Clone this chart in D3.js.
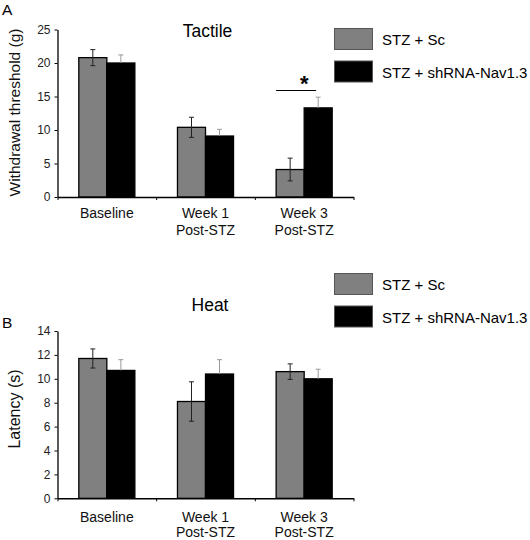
<!DOCTYPE html>
<html><head><meta charset="utf-8">
<script src="https://cdn.jsdelivr.net/npm/d3@7"></script>
<style>body{margin:0;background:#fff}svg{display:block}text{font-family:Arial,"Liberation Sans",sans-serif}</style>
</head><body>
<svg id="c" width="530" height="540"></svg>
<script>
const categories = [["Baseline"], ["Week 1", "Post-STZ"], ["Week 3", "Post-STZ"]];
const seriesNames = ["STZ + Sc", "STZ + shRNA-Nav1.3"];
const seriesColors = ["#808080", "#000000"];
const tactileSc = [20.8, 10.4, 4.1];
const tactileSh = [20.0, 9.1, 13.3];
const tactileScErr = [1.2, 1.5, 1.7];
const tactileShErr = [1.2, 1.0, 1.6];
const heatSc = [11.7, 8.1, 10.6];
const heatSh = [10.7, 10.4, 10.0];
const heatScErr = [0.8, 1.65, 0.65];
const heatShErr = [0.9, 1.2, 0.8];
const tactileTicks = [0, 5, 10, 15, 20, 25];
const heatTicks = [0, 2, 4, 6, 8, 10, 12, 14];

const svg = d3.select("#c");

function panel(o) {
  const g = svg.append("g");
  const x = d3.scaleBand().domain(d3.range(categories.length)).range([57.5, 353.5]).padding(0);
  const xs = d3.scaleBand().domain([0, 1]).range([0, x.bandwidth()]).paddingInner(0).paddingOuter(0.76);
  const y = d3.scaleLinear().domain([0, o.max]).range([o.y0, o.y1]);

  const series = [o.sc, o.sh];
  const errs = [o.scErr, o.shErr];
  series.forEach((vals, si) => {
    g.selectAll(null).data(vals).enter().append("rect")
      .attr("x", (d, i) => x(i) + xs(si))
      .attr("width", xs.bandwidth())
      .attr("y", d => y(d))
      .attr("height", d => y(0) - y(d))
      .attr("fill", seriesColors[si])
      .attr("stroke", "#000").attr("stroke-width", 1.3);
  });
  series.forEach((vals, si) => {
    const col = si === 0 ? "#222" : "#999";
    vals.forEach((v, i) => {
      const cx = x(i) + xs(si) + xs.bandwidth() / 2;
      const lo = si === 0 ? v - errs[si][i] : v;
      const hi = v + errs[si][i];
      g.append("line").attr("x1", cx).attr("x2", cx).attr("y1", y(lo)).attr("y2", y(hi)).attr("stroke", col).attr("stroke-width", 1);
      g.append("line").attr("x1", cx - 2.5).attr("x2", cx + 2.5).attr("y1", y(hi)).attr("y2", y(hi)).attr("stroke", col).attr("stroke-width", 1);
      if (si === 0) g.append("line").attr("x1", cx - 2.5).attr("x2", cx + 2.5).attr("y1", y(lo)).attr("y2", y(lo)).attr("stroke", col).attr("stroke-width", 1);
    });
  });

  const ya = g.append("g").attr("transform", "translate(57.5,0)")
    .call(d3.axisLeft(y).tickValues(o.ticks).tickSize(3).tickSizeOuter(0).tickPadding(4));
  ya.select(".domain").attr("stroke-width", 1.3);
  ya.selectAll("text").attr("font-size", 12).attr("fill", "#222").attr("font-family", "Arial, 'Liberation Sans', sans-serif");

  const xl = d3.scaleLinear().domain([0, categories.length]).range([57.5, 353.5]);
  const xa = g.append("g").attr("transform", `translate(0,${o.y0})`)
    .call(d3.axisBottom(xl).tickValues(d3.range(categories.length + 1)).tickSize(3).tickSizeOuter(0).tickFormat(""));
  xa.select(".domain").attr("stroke-width", 1.5);

  categories.forEach((lines, i) => {
    const t = g.append("text").attr("x", x(i) + x.bandwidth() / 2).attr("y", o.labY)
      .attr("text-anchor", "middle").attr("font-size", 14).attr("fill", "#111");
    lines.forEach((l, k) => t.append("tspan").attr("x", x(i) + x.bandwidth() / 2).attr("dy", k === 0 ? 0 : o.labGap).text(l));
  });

  g.append("text").attr("transform", `translate(${o.ylabX},${o.ylabY}) rotate(-90)`)
    .attr("text-anchor", "middle").attr("font-size", o.ylabSize).attr("fill", "#111").text(o.ylab);
  g.append("text").attr("x", o.titleX).attr("y", o.titleY).attr("text-anchor", "middle")
    .attr("font-size", 17.5).attr("fill", "#000").text(o.title);
  g.append("text").attr("x", 2).attr("y", o.letterY).attr("font-size", 15.5).attr("fill", "#000").text(o.letter);

  seriesNames.forEach((n, si) => {
    const ly = o.legY + si * 32.5;
    g.append("rect").attr("x", 334.5).attr("y", ly).attr("width", 38).attr("height", 21)
      .attr("fill", seriesColors[si]).attr("stroke", "#555").attr("stroke-width", 1);
    g.append("text").attr("x", 382).attr("y", ly + 16.5).attr("font-size", 15).attr("fill", "#000").text(n);
  });
  return {x, xs, y};
}

const A = panel({max: 25, y0: 197, y1: 29.5, ticks: tactileTicks, sc: tactileSc, sh: tactileSh,
  scErr: tactileScErr, shErr: tactileShErr, labY: 218, labGap: 17, ylab: "Withdrawal threshold (g)", ylabX: 19.5, ylabY: 112.5, ylabSize: 15.5,
  title: "Tactile", titleX: 207.5, titleY: 36.5, letter: "A", letterY: 14.5, legY: 28.5});

const wx = A.x(2);
svg.append("line").attr("x1", wx + A.xs(0) + A.xs.bandwidth() / 2 - 14).attr("x2", wx + A.xs(1) + A.xs.bandwidth() / 2 - 2)
  .attr("y1", 90.5).attr("y2", 90.5).attr("stroke", "#000").attr("stroke-width", 1);
svg.append("text").attr("x", wx + A.xs(1)).attr("y", 91).attr("text-anchor", "middle")
  .attr("font-size", 22).attr("font-weight", "bold").attr("fill", "#000").text("*");

panel({max: 14, y0: 498.3, y1: 331, ticks: heatTicks, sc: heatSc, sh: heatSh,
  scErr: heatScErr, shErr: heatShErr, labY: 521.5, labGap: 15.5, ylab: "Latency (s)", ylabX: 19.5, ylabY: 409, ylabSize: 16,
  title: "Heat", titleX: 210, titleY: 310.5, letter: "B", letterY: 328, legY: 273.5});
</script>
</body></html>
